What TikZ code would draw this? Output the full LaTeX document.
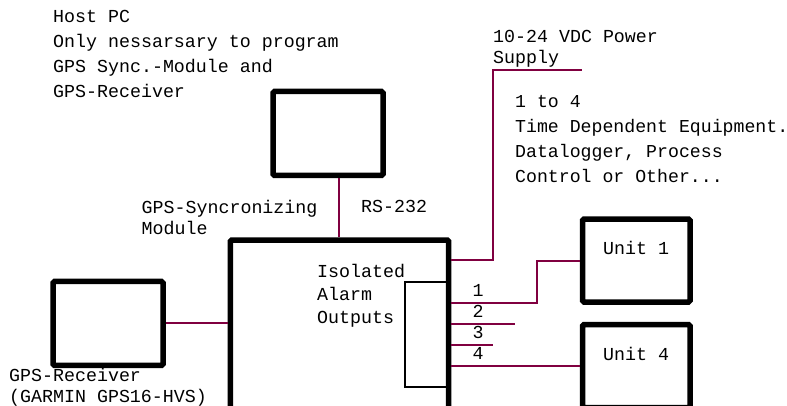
\documentclass[tikz,border=0pt]{standalone}
\usepackage{fontspec}
\setmonofont{Liberation Mono}
\usepackage{xcolor}
\definecolor{wirered}{RGB}{128,0,64}
\usepackage{tikz}
\usetikzlibrary{positioning}
\usetikzlibrary{calc}

\begin{document}
\begin{tikzpicture}[
    x=1pt, y=-1pt,
    box/.style={rectangle, draw, line width=5.5pt, rounded corners=1.5pt, inner sep=0pt},
    thinbox/.style={rectangle, draw, line width=1.8pt, inner sep=0pt},
    wire/.style={draw=wirered, line width=2pt},
    txt/.style={inner sep=0pt, anchor=north west, align=left, font=\ttfamily\fontsize{18.3}{21}\selectfont}
]
\clip (0,0) rectangle (787,405);

% Boxes
\node[box, minimum width=110pt, minimum height=84pt] (host) at (328,133.4) {};
\node[box, minimum width=218.4pt, minimum height=240pt] (module) at (339.5,360) {};
\node[box, minimum width=110pt, minimum height=84pt] (gps) at (108,323.4) {};
\node[box, minimum width=107.5pt, minimum height=83pt] (unit1) at (636.25,260.5) {};
\node[box, minimum width=107.5pt, minimum height=83pt] (unit4) at (636.25,366) {};
\node[thinbox, minimum width=43.7pt, minimum height=105.6pt] (alarm) at (426.85,334.5) {};

% Free ends
\coordinate (rs) at (339,0);
\coordinate (psu) at (582,70);
\coordinate (out2) at (515,324);
\coordinate (out3) at (493,345);

% Wires
\draw[wire] (host.south -| rs) -- (module.north -| rs);
\draw[wire] (gps.east) -- (module.west |- gps.east);
\draw[wire] (module.east |- 0,260) -| (493,70) -- (psu);
\draw[wire] (module.east |- 0,303) -| (537,0 |- unit1.west) -- (unit1.west);
\draw[wire] (module.east |- out2) -- (out2);
\draw[wire] (module.east |- out3) -- (out3);
\draw[wire] (module.east |- unit4.west) -- (unit4.west);

% Texts
\node[txt, font=\ttfamily\fontsize{18.3}{24.8}\selectfont] (hosttxt) at (53,10.5)
    {Host PC\\Only nessarsary to program\\GPS Sync.-Module and\\GPS-Receiver};
\node[txt] (psutxt) at (493,30.5) {10-24 VDC Power\\Supply};
\node[txt, font=\ttfamily\fontsize{18.2}{25}\selectfont] (eqtxt) at (515,95)
    {1 to 4\\Time Dependent Equipment.\\Datalogger, Process\\Control or Other...};
\node[txt] (modtxt) at (141.5,200) {GPS-Syncronizing\\Module};
\node[txt] (rstxt) at (361,200) {RS-232};
\node[txt, font=\ttfamily\fontsize{18.3}{23}\selectfont] (alarmtxt) at (317,264) {Isolated\\Alarm\\Outputs};
\node[txt] (gpstxt) at (9,368) {GPS-Receiver\\(GARMIN GPS16-HVS)};
\node[txt] (u1txt) at (603,241.5) {Unit 1};
\node[txt] (u4txt) at (603,347) {Unit 4};

% Output numbers
\node[txt] (n1) at (472.5,284) {1};
\node[txt] (n2) at (472.5,305.5) {2};
\node[txt] (n3) at (472.5,326.5) {3};
\node[txt] (n4) at (472.5,347) {4};
\end{tikzpicture}
\end{document}
